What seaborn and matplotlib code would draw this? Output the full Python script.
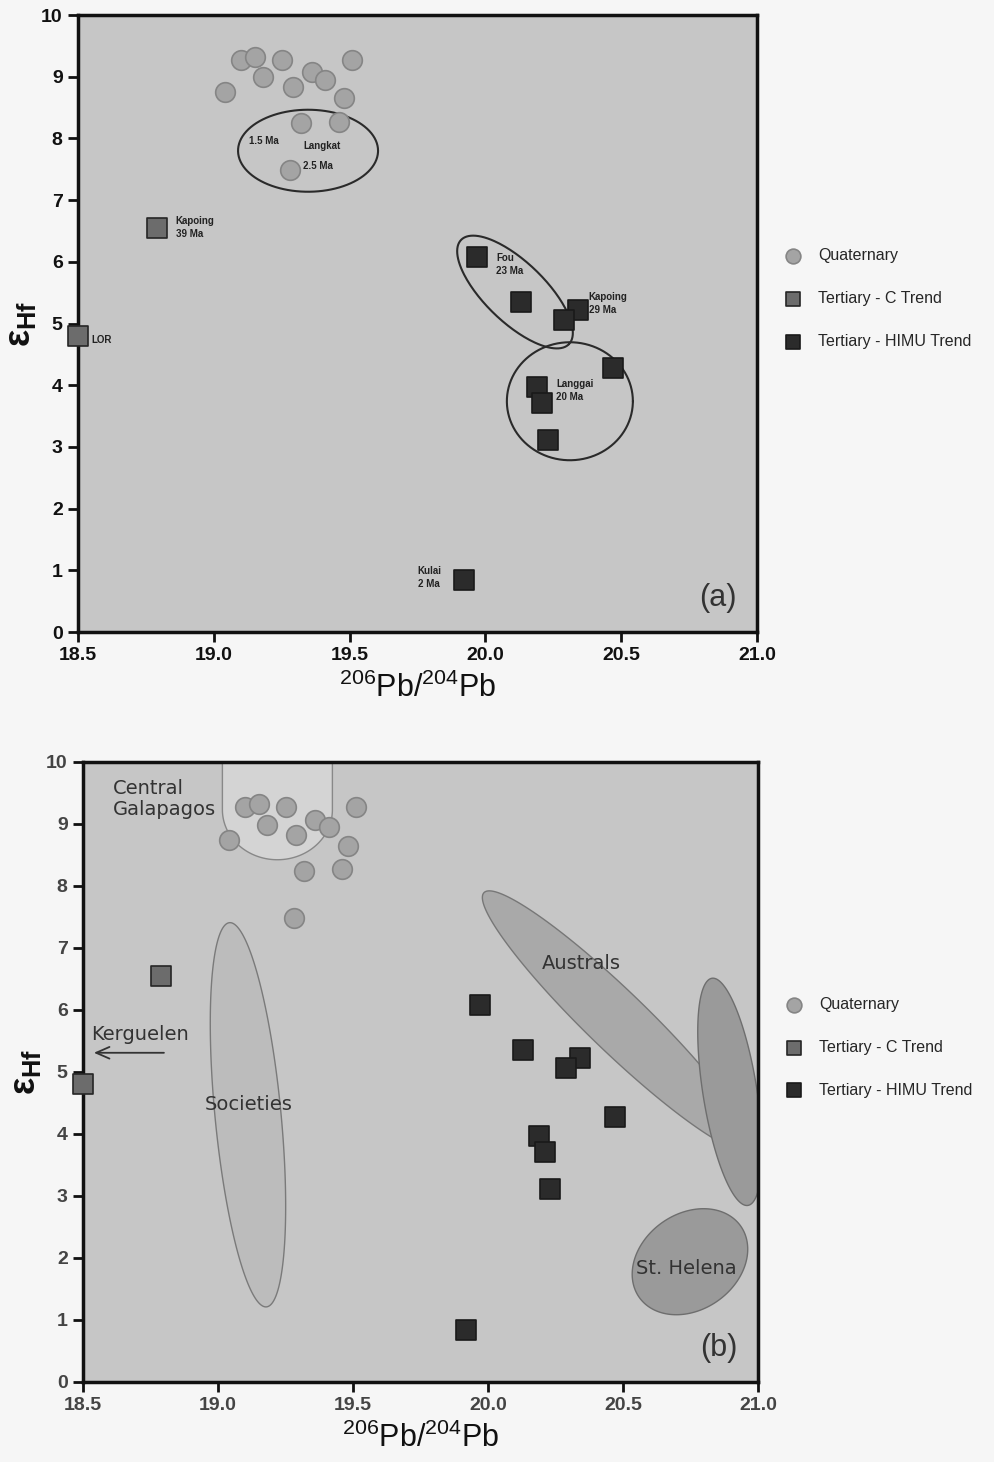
import numpy as np
import pandas as pd
import matplotlib
matplotlib.use("Agg")
import matplotlib.pyplot as plt
import seaborn as sns

# --- data --------------------------------------------------------------
quat_x = [19.10, 19.15, 19.18, 19.25, 19.29, 19.36, 19.41, 19.51, 19.04, 19.48, 19.32, 19.46, 19.28]
quat_y = [9.27, 9.32, 8.99, 9.27, 8.83, 9.07, 8.95, 9.27, 8.75, 8.65, 8.25, 8.27, 7.49]

ctrend_x = [18.79, 18.50]
ctrend_y = [6.55, 4.80]

himu_x = [19.97, 20.13, 20.34, 20.29, 20.19, 20.21, 20.47, 20.23, 19.92]
himu_y = [6.08, 5.35, 5.22, 5.06, 3.97, 3.71, 4.28, 3.11, 0.84]

groups = ["Quaternary", "Tertiary - C Trend", "Tertiary - HIMU Trend"]
x_ticks = [18.5, 19.0, 19.5, 20.0, 20.5, 21.0]
y_ticks = list(range(0, 11))

# sample labels in panel (a): (text, x, y)
labels_a = [
    ("1.5 Ma", 19.13, 7.95),
    ("Langkat", 19.33, 7.87),
    ("2.5 Ma", 19.33, 7.55),
    ("Kapoing\n39 Ma", 18.86, 6.55),
    ("LOR", 18.55, 4.74),
    ("Fou\n23 Ma", 20.04, 5.95),
    ("Kapoing\n29 Ma", 20.38, 5.32),
    ("Langgai\n20 Ma", 20.26, 3.92),
    ("Kulai\n2 Ma", 19.75, 0.88),
]

df = pd.DataFrame({
    "x": quat_x + ctrend_x + himu_x,
    "y": quat_y + ctrend_y + himu_y,
    "group": [groups[0]] * len(quat_x) + [groups[1]] * len(ctrend_x) + [groups[2]] * len(himu_x),
})

styles = {
    "Quaternary": dict(marker="o", color="#a4a4a4", edgecolor="#858585"),
    "Tertiary - C Trend": dict(marker="s", color="#6c6c6c", edgecolor="#262626"),
    "Tertiary - HIMU Trend": dict(marker="s", color="#2b2b2b", edgecolor="#1a1a1a"),
}

sns.set_theme(style="white")
plt.rcParams["font.family"] = ["Liberation Sans", "DejaVu Sans"]
plt.rcParams["mathtext.fontset"] = "custom"
plt.rcParams["mathtext.rm"] = "Liberation Sans"
plt.rcParams["mathtext.bf"] = "Liberation Sans:bold"

W, H = 995, 1462
fig = plt.figure(figsize=(W / 100, H / 100), dpi=100, facecolor="#f6f6f6")

ax_a = fig.add_axes([78 / W, 1 - 632 / H, 679 / W, 617 / H])
ax_b = fig.add_axes([83 / W, 1 - 1382 / H, 675 / W, 620 / H])


def px_scale(ax):
    pos = ax.get_position()
    return pos.width * W / 2.5, pos.height * H / 10.0


def ellipse_pts(ax, cx, cy, a, b, ang, t0=0.0, t1=2 * np.pi):
    # a, b in pixels, rotation in screen degrees
    sx, sy = px_scale(ax)
    t = np.linspace(t0, t1, 200)
    th = np.radians(ang)
    px = a * np.cos(t) * np.cos(th) - b * np.sin(t) * np.sin(th)
    py = a * np.cos(t) * np.sin(th) + b * np.sin(t) * np.cos(th)
    return cx + px / sx, cy + py / sy


def style_axes(ax, tag, lab_color):
    ax.set_facecolor("#c6c6c6")
    ax.set_xlim(18.5, 21.0)
    ax.set_ylim(0, 10)
    ax.set_xticks(x_ticks)
    ax.set_xticklabels([f"{v:.1f}" for v in x_ticks])
    ax.set_yticks(y_ticks)
    for s in ax.spines.values():
        s.set_visible(True)
        s.set_color("#111111")
        s.set_linewidth(2.5)
    ax.tick_params(axis="both", direction="out", length=7, width=2, color="#111111",
                   labelsize=14, labelcolor=lab_color, pad=4,
                   bottom=True, left=True)
    for t in ax.get_xticklabels() + ax.get_yticklabels():
        t.set_fontweight("bold")
    ax.set_xlabel("$^{206}$Pb/$^{204}$Pb", fontsize=22, color="#111111", labelpad=6)
    ax.set_ylabel("ε$_{\\mathbf{Hf}}$", fontsize=26, fontweight="bold", color="#111111", labelpad=2)
    ax.text(0.97, 0.03, tag, transform=ax.transAxes, ha="right", va="bottom",
            fontsize=22, color="#333333")


def draw_points(ax):
    for g in groups:
        sub = df[df["group"] == g]
        sns.scatterplot(data=sub, x="x", y="y", s=200, linewidth=1.2, label=g,
                        ax=ax, zorder=5, clip_on=False, **styles[g])
    ax.legend(loc="center left", bbox_to_anchor=(1.02, 0.54), frameon=False,
              fontsize=11.5, labelspacing=1.75, handletextpad=0.6, markerscale=0.75,
              borderaxespad=0)


# --- panel (a) ----------------------------------------------------------
draw_points(ax_a)
for (cx, cy, a, b, ang) in [(19.347, 7.80, 70, 41, 0), (20.109, 5.51, 75, 30, -44),
                            (20.311, 3.74, 63, 59, 0)]:
    ex, ey = ellipse_pts(ax_a, cx, cy, a, b, ang)
    ax_a.plot(ex, ey, color="#2a2a2a", lw=1.5, zorder=3)
for txt, x, y in labels_a:
    ax_a.text(x, y, txt, fontsize=7, fontweight="bold", color="#222222",
              va="center", ha="left", linespacing=1.4, zorder=6)
style_axes(ax_a, "(a)", "#111111")

# --- panel (b) ----------------------------------------------------------
regions = [
    # cx, cy, a, b, ang, face, edge
    (19.111, 4.31, 193, 33, -84.5, "#bcbcbc", "#7a7a7a"),   # Societies
    (20.478, 5.82, 185, 30, -44, "#a9a9a9", "#777777"),     # Australs
    (20.896, 4.68, 115, 27, -81, "#9a9a9a", "#6e6e6e"),     # St. Helena (upper)
    (20.748, 1.94, 62, 48, 35, "#9a9a9a", "#6e6e6e"),       # St. Helena (lower)
]
for cx, cy, a, b, ang, fc, ec in regions:
    ex, ey = ellipse_pts(ax_b, cx, cy, a, b, ang)
    ax_b.fill(ex, ey, facecolor=fc, edgecolor=ec, lw=1.0, zorder=2)

# Central Galapagos field (open at the top of the axes)
gx, gy = ellipse_pts(ax_b, 19.22, 9.23, 55, 50, 0, np.pi, 2 * np.pi)
gx = np.concatenate([[gx[0]], gx, [gx[-1]]])
gy = np.concatenate([[10.0], gy, [10.0]])
ax_b.fill(gx, gy, facecolor="#d4d4d4", edgecolor="#888888", lw=1.0, zorder=2)

draw_points(ax_b)

tfont = dict(family=["DejaVu Sans"], fontsize=14, color="#333333", zorder=6)
ax_b.text(18.61, 9.40, "Central\nGalapagos", va="center", ha="left", linespacing=1.15, **tfont)
ax_b.text(18.53, 5.60, "Kerguelen", va="center", ha="left", **tfont)
ax_b.text(18.95, 4.48, "Societies", va="center", ha="left", **tfont)
ax_b.text(20.20, 6.75, "Australs", va="center", ha="left", **tfont)
ax_b.text(20.55, 1.83, "St. Helena", va="center", ha="left", **tfont)
ax_b.annotate("", xy=(18.53, 5.31), xytext=(18.81, 5.31),
              arrowprops=dict(arrowstyle="->,head_length=0.8,head_width=0.35",
                              lw=1.3, color="#333333"), zorder=6)
style_axes(ax_b, "(b)", "#444444")

fig.savefig("out.png", dpi=100, facecolor=fig.get_facecolor())
